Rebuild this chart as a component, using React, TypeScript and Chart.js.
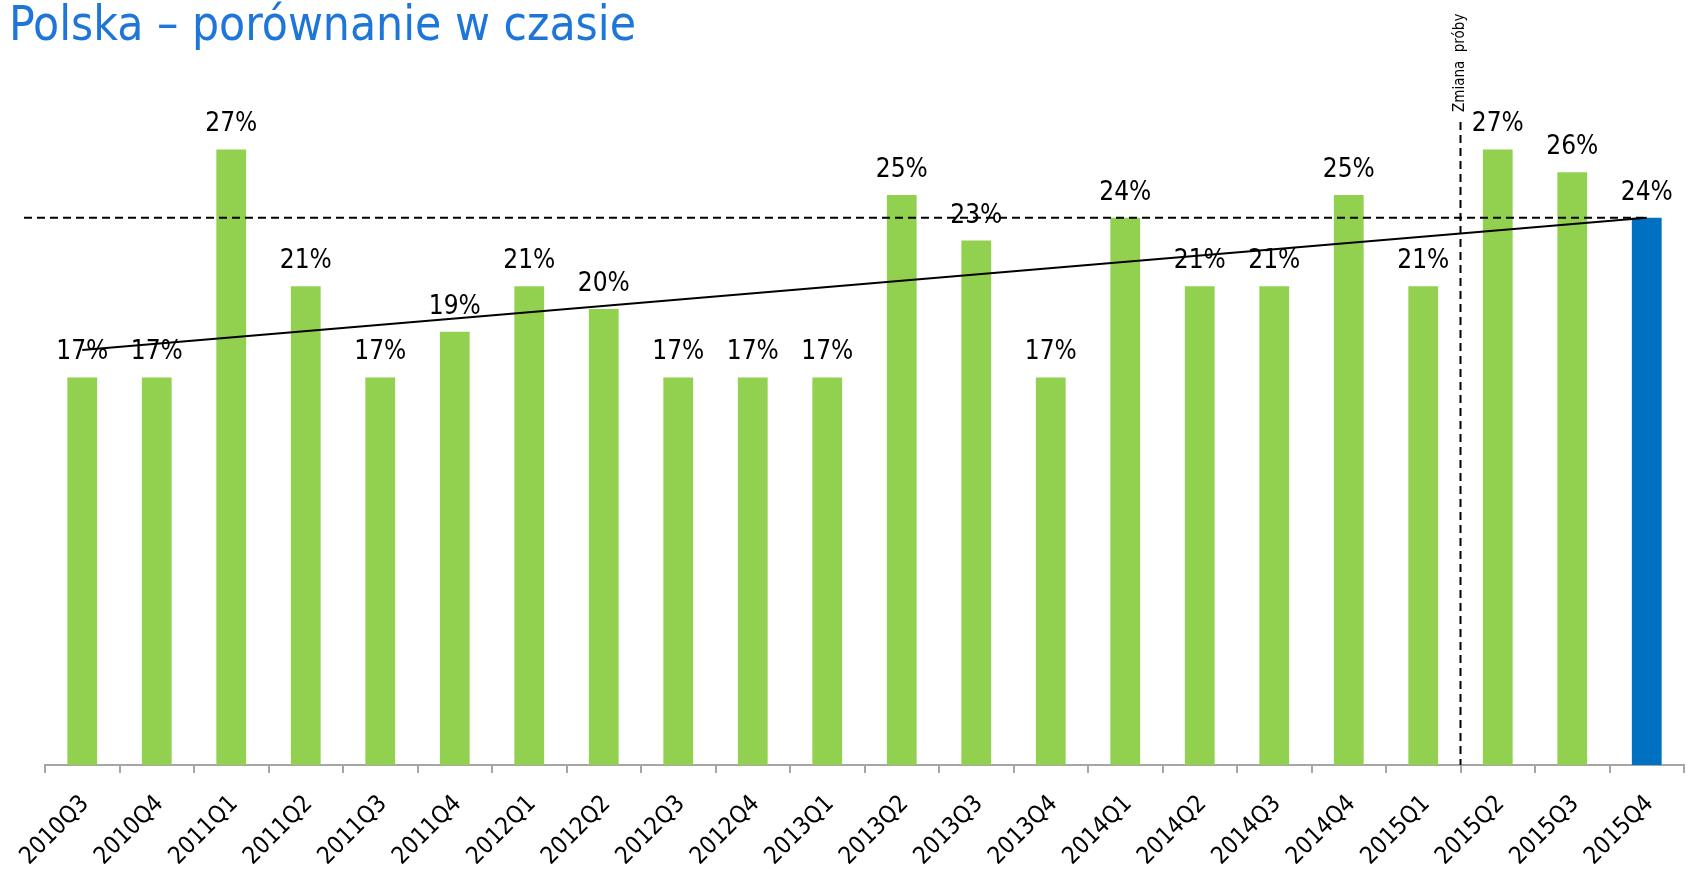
import React, { useEffect, useRef } from 'react';
import { Chart, registerables } from 'chart.js';

Chart.register(...registerables);

const titleText = 'Polska – porównanie w czasie';
const categories = [
  '2010Q3', '2010Q4', '2011Q1', '2011Q2', '2011Q3', '2011Q4',
  '2012Q1', '2012Q2', '2012Q3', '2012Q4', '2013Q1', '2013Q2',
  '2013Q3', '2013Q4', '2014Q1', '2014Q2', '2014Q3', '2014Q4',
  '2015Q1', '2015Q2', '2015Q3', '2015Q4',
];
const values = [17, 17, 27, 21, 17, 19, 21, 20, 17, 17, 17, 25, 23, 17, 24, 21, 21, 25, 21, 27, 26, 24];
const trendStart = 18.2;
const trendEnd = 24.0;
const referenceLevel = 24;
const sampleChangeAfter = '2015Q1';
const sampleChangeLabel = 'Zmiana  próby';

const GREEN = '#92D050';
const BLUE = '#0070C0';
const FONT = '"DejaVu Sans Condensed", "DejaVu Sans", sans-serif';

const overlayPlugin = {
  id: 'overlay',
  afterDatasetsDraw(chart: any) {
    const ctx = chart.ctx;
    const area = chart.chartArea;
    const x = chart.scales.x;
    const y = chart.scales.y;
    const meta = chart.getDatasetMeta(0);
    ctx.save();
    // reference dashed horizontal line
    ctx.strokeStyle = '#000';
    ctx.lineWidth = 2;
    ctx.setLineDash([8, 5]);
    const yRef = y.getPixelForValue(referenceLevel);
    const lastBar = meta.data[meta.data.length - 1];
    ctx.beginPath();
    ctx.moveTo(area.left - 21, yRef);
    ctx.lineTo(lastBar.x, yRef);
    ctx.stroke();
    // vertical sample change line
    const idx = categories.indexOf(sampleChangeAfter);
    const xv = (x.getPixelForValue(idx) + x.getPixelForValue(idx + 1)) / 2;
    ctx.beginPath();
    ctx.moveTo(xv, 122);
    ctx.lineTo(xv, area.bottom);
    ctx.stroke();
    ctx.setLineDash([]);
    // rotated label
    ctx.save();
    ctx.translate(xv, 112);
    ctx.rotate(-Math.PI / 2);
    ctx.font = '15px ' + FONT;
    ctx.fillStyle = '#000';
    ctx.textAlign = 'left';
    ctx.textBaseline = 'middle';
    ctx.fillText(sampleChangeLabel, 0, 0);
    ctx.restore();
    // value labels
    ctx.font = '26px ' + FONT;
    ctx.fillStyle = '#000';
    ctx.textAlign = 'center';
    ctx.textBaseline = 'alphabetic';
    meta.data.forEach((bar: any, i: number) => {
      ctx.fillText(values[i] + '%', bar.x, bar.y - 18);
    });
    ctx.restore();
  },
  afterDraw(chart: any) {
    const ctx = chart.ctx;
    ctx.save();
    ctx.font = '47.5px ' + FONT;
    ctx.fillStyle = '#1F76D9';
    ctx.textAlign = 'left';
    ctx.textBaseline = 'alphabetic';
    ctx.fillText(titleText, 9, 39.5);
    ctx.restore();
  },
};

export default function App() {
  const ref = useRef<HTMLCanvasElement>(null);
  useEffect(() => {
    if (!ref.current) return;
    const chart = new Chart(ref.current, {
      type: 'bar',
      data: {
        labels: categories,
        datasets: [
          {
            type: 'bar',
            data: values,
            backgroundColor: values.map((_, i) => (i === values.length - 1 ? BLUE : GREEN)),
            borderWidth: 0,
            barPercentage: 0.4,
            categoryPercentage: 1,
            order: 2,
          } as any,
          {
            type: 'line',
            data: [
              { x: categories[0], y: trendStart },
              { x: categories[categories.length - 1], y: trendEnd },
            ],
            borderColor: '#000',
            borderWidth: 2,
            pointRadius: 0,
            fill: false,
            order: 1,
          } as any,
        ],
      },
      options: {
        responsive: false,
        animation: false,
        devicePixelRatio: 1,
        layout: { padding: { left: 45, right: 8, top: 81, bottom: 0 } },
        plugins: {
          legend: { display: false },
          title: { display: false },
          tooltip: { enabled: false },
        },
        scales: {
          x: {
            offset: true,
            border: { display: true, color: '#A6A6A6', width: 2 },
            grid: {
              display: true,
              offset: true,
              drawOnChartArea: false,
              drawTicks: true,
              tickLength: 8,
              color: '#A6A6A6',
              lineWidth: 2,
            },
            ticks: {
              autoSkip: false,
              minRotation: 45,
              maxRotation: 45,
              padding: 17,
              labelOffset: 3,
              color: '#000',
              font: { family: FONT, size: 24 },
            },
            afterFit: (scale: any) => {
              scale.height = 104;
            },
          },
          y: {
            display: false,
            min: 0,
            max: 30,
          },
        },
      },
      plugins: [overlayPlugin],
    });
    return () => chart.destroy();
  }, []);
  return (
    <div style={{ position: 'absolute', left: 0, top: 0, width: 1692, height: 869, background: '#fff' }}>
      <canvas ref={ref} width={1692} height={869} />
    </div>
  );
}
